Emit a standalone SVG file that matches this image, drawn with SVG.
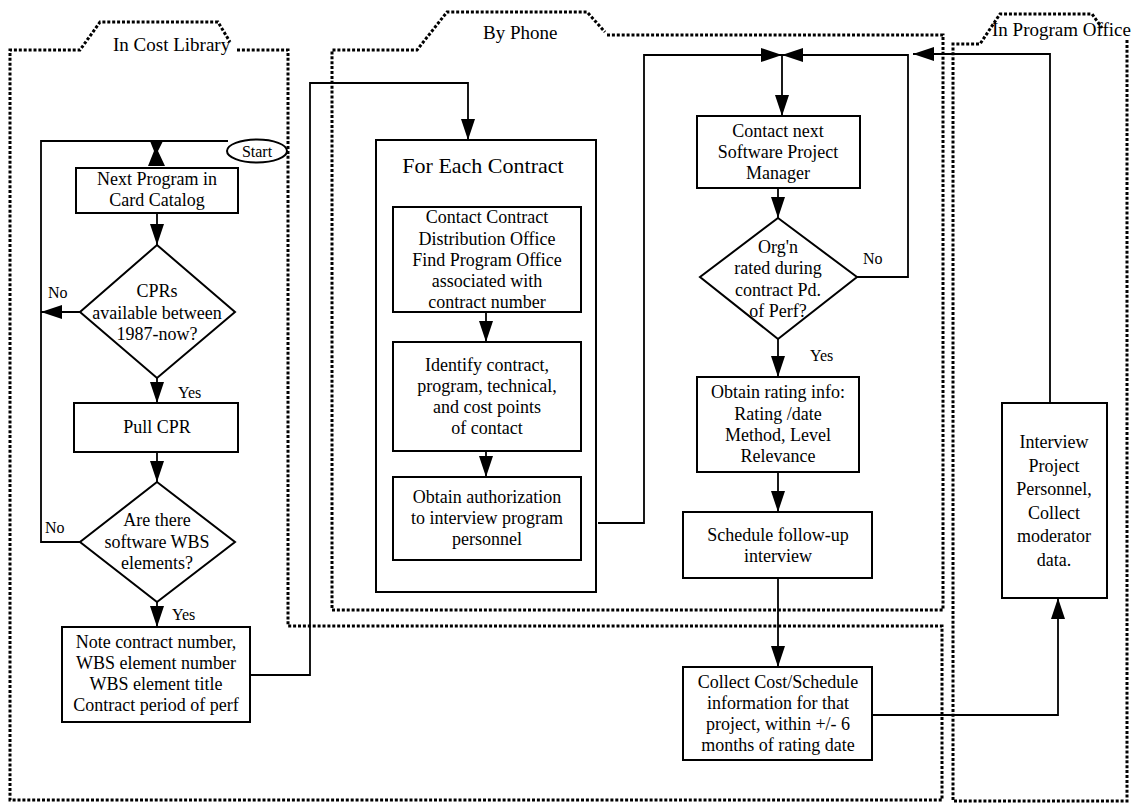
<svg xmlns="http://www.w3.org/2000/svg" width="1133" height="804" viewBox="0 0 1133 804">
<style>
  text { font-family: "Liberation Serif", "Times New Roman", serif; fill: #000; }
  .t { font-size: 18px; text-anchor: middle; }
  .lbl { font-size: 16px; }
  .lane { font-size: 19px; }
  .big { font-size: 22px; text-anchor: middle; }
  .box { fill: none; stroke: #000; stroke-width: 2; }
  .dot { fill: none; stroke: #000; stroke-width: 3; stroke-dasharray: 3 1.9; }
  .ln { fill: none; stroke: #000; stroke-width: 1.8; }
</style>
<defs>
  <marker id="ah" markerUnits="userSpaceOnUse" markerWidth="21" markerHeight="14" refX="21" refY="7" orient="auto">
    <path d="M0,0 L21,7 L0,14 z" fill="#000"/>
  </marker>
</defs>
<rect width="1133" height="804" fill="#fff"/>

<g id="lanes">
  <g id="lane-cost-library">
    <path class="dot" d="M237,50 H288 V626 H942 V800 H10 V50 H80 L100,22 H218 L230,42"/>
    <text class="lane" x="113" y="51">In Cost Library</text>
  </g>
  <g id="lane-by-phone">
    <path class="dot" d="M607,35 H943 V610 H332 V50 H417 L447,12 H587 L605,32"/>
    <text class="lane" x="483" y="39">By Phone</text>
  </g>
  <g id="lane-program-office">
    <path class="dot" d="M1127,40 V801 H953 V44 H980 L1000,14 H1092 L1102,28"/>
    <text class="lane" x="992" y="36">In Program Office</text>
  </g>
</g>

<g id="start">
  <ellipse cx="257" cy="151" rx="30" ry="11.5" fill="#fff" stroke="#000" stroke-width="2"/>
  <text class="t" x="257" y="157" style="font-size:16px">Start</text>
</g>

<g id="next-program">
  <rect class="box" x="76" y="168" width="162" height="45"/>
  <text class="t" x="157" y="185">Next Program in</text>
  <text class="t" x="157" y="206">Card Catalog</text>
</g>

<g id="cprs-available">
  <polygon class="box" points="157,245 235,312 157,378 80,312"/>
  <text class="t" x="157" y="297">CPRs</text>
  <text class="t" x="157" y="319">available between</text>
  <text class="t" x="157" y="340">1987-now?</text>
</g>

<g id="pull-cpr">
  <rect class="box" x="74" y="403" width="164" height="49"/>
  <text class="t" x="157" y="433">Pull CPR</text>
</g>

<g id="software-wbs">
  <polygon class="box" points="157,482 235,542 157,602 80,542"/>
  <text class="t" x="157" y="526">Are there</text>
  <text class="t" x="157" y="548">software WBS</text>
  <text class="t" x="157" y="569">elements?</text>
</g>

<g id="note-contract">
  <rect class="box" x="62" y="627" width="188" height="95"/>
  <text class="t" x="156" y="648">Note contract number,</text>
  <text class="t" x="156" y="669">WBS element number</text>
  <text class="t" x="156" y="690">WBS element title</text>
  <text class="t" x="156" y="711">Contract period of perf</text>
</g>

<g id="for-each-contract">
  <rect class="box" x="376" y="140" width="220" height="452"/>
  <text class="big" x="483" y="173">For Each Contract</text>
</g>

<g id="contact-distribution">
  <rect class="box" x="393" y="207" width="188" height="105"/>
  <text class="t" x="487" y="223">Contact Contract</text>
  <text class="t" x="487" y="245">Distribution Office</text>
  <text class="t" x="487" y="266">Find Program Office</text>
  <text class="t" x="487" y="287">associated with</text>
  <text class="t" x="487" y="308">contract number</text>
</g>

<g id="identify-contract">
  <rect class="box" x="393" y="342" width="188" height="109"/>
  <text class="t" x="487" y="371">Identify contract,</text>
  <text class="t" x="487" y="392">program, technical,</text>
  <text class="t" x="487" y="413">and cost points</text>
  <text class="t" x="487" y="434">of contact</text>
</g>

<g id="obtain-authorization">
  <rect class="box" x="393" y="477" width="188" height="83"/>
  <text class="t" x="487" y="503">Obtain authorization</text>
  <text class="t" x="487" y="524">to interview program</text>
  <text class="t" x="487" y="545">personnel</text>
</g>

<g id="contact-next">
  <rect class="box" x="697" y="116" width="163" height="72"/>
  <text class="t" x="778" y="137">Contact next</text>
  <text class="t" x="778" y="158">Software Project</text>
  <text class="t" x="778" y="179">Manager</text>
</g>

<g id="orgn-rated">
  <polygon class="box" points="778,218 857,277 778,339 700,277"/>
  <text class="t" x="778" y="253">Org'n</text>
  <text class="t" x="778" y="274">rated during</text>
  <text class="t" x="778" y="296">contract Pd.</text>
  <text class="t" x="778" y="317">of Perf?</text>
</g>

<g id="obtain-rating">
  <rect class="box" x="697" y="377" width="162" height="95"/>
  <text class="t" x="778" y="398">Obtain rating info:</text>
  <text class="t" x="778" y="420">Rating /date</text>
  <text class="t" x="778" y="441">Method, Level</text>
  <text class="t" x="778" y="462">Relevance</text>
</g>

<g id="schedule-interview">
  <rect class="box" x="683" y="512" width="189" height="66"/>
  <text class="t" x="778" y="541">Schedule follow-up</text>
  <text class="t" x="778" y="562">interview</text>
</g>

<g id="collect-cost">
  <rect class="box" x="683" y="667" width="189" height="93"/>
  <text class="t" x="778" y="688">Collect Cost/Schedule</text>
  <text class="t" x="778" y="709">information for that</text>
  <text class="t" x="778" y="730">project, within +/- 6</text>
  <text class="t" x="778" y="751">months of rating date</text>
</g>

<g id="interview-personnel">
  <rect class="box" x="1002" y="403" width="105" height="195"/>
  <text class="t" x="1054" y="448">Interview</text>
  <text class="t" x="1054" y="472">Project</text>
  <text class="t" x="1054" y="495">Personnel,</text>
  <text class="t" x="1054" y="519">Collect</text>
  <text class="t" x="1054" y="542">moderator</text>
  <text class="t" x="1054" y="566">data.</text>
</g>

<g id="connectors">
  <path class="ln" d="M228,141 H41 V542 H80"/>
  <path d="M150,141 L163,141 L158,151 L165,166 L148,166 L154,151 z" fill="#000"/>
  <path class="ln" d="M157,213 V245" marker-end="url(#ah)"/>
  <path class="ln" d="M80,312 H41" marker-end="url(#ah)"/>
  <path class="ln" d="M157,378 V403" marker-end="url(#ah)"/>
  <path class="ln" d="M157,452 V482" marker-end="url(#ah)"/>
  <path class="ln" d="M157,602 V627" marker-end="url(#ah)"/>
  <path class="ln" d="M250,675 H310 V83 H468 V140" marker-end="url(#ah)"/>
  <path class="ln" d="M486,312 V342" marker-end="url(#ah)"/>
  <path class="ln" d="M486,451 V477" marker-end="url(#ah)"/>
  <path class="ln" d="M598,523 H644 V55 H782" marker-end="url(#ah)"/>
  <path class="ln" d="M857,277 H908 V55 H782" marker-end="url(#ah)"/>
  <path class="ln" d="M782,55 V116" marker-end="url(#ah)"/>
  <path class="ln" d="M778,188 V218" marker-end="url(#ah)"/>
  <path class="ln" d="M778,339 V377" marker-end="url(#ah)"/>
  <path class="ln" d="M778,472 V512" marker-end="url(#ah)"/>
  <path class="ln" d="M778,578 V667" marker-end="url(#ah)"/>
  <path class="ln" d="M1050,403 V54 H913" marker-end="url(#ah)"/>
  <path class="ln" d="M872,715 H1058 V598" marker-end="url(#ah)"/>
  <text class="lbl" x="48" y="298">No</text>
  <text class="lbl" x="178" y="398">Yes</text>
  <text class="lbl" x="45" y="533">No</text>
  <text class="lbl" x="172" y="620">Yes</text>
  <text class="lbl" x="863" y="264">No</text>
  <text class="lbl" x="810" y="361">Yes</text>
</g>
</svg>
